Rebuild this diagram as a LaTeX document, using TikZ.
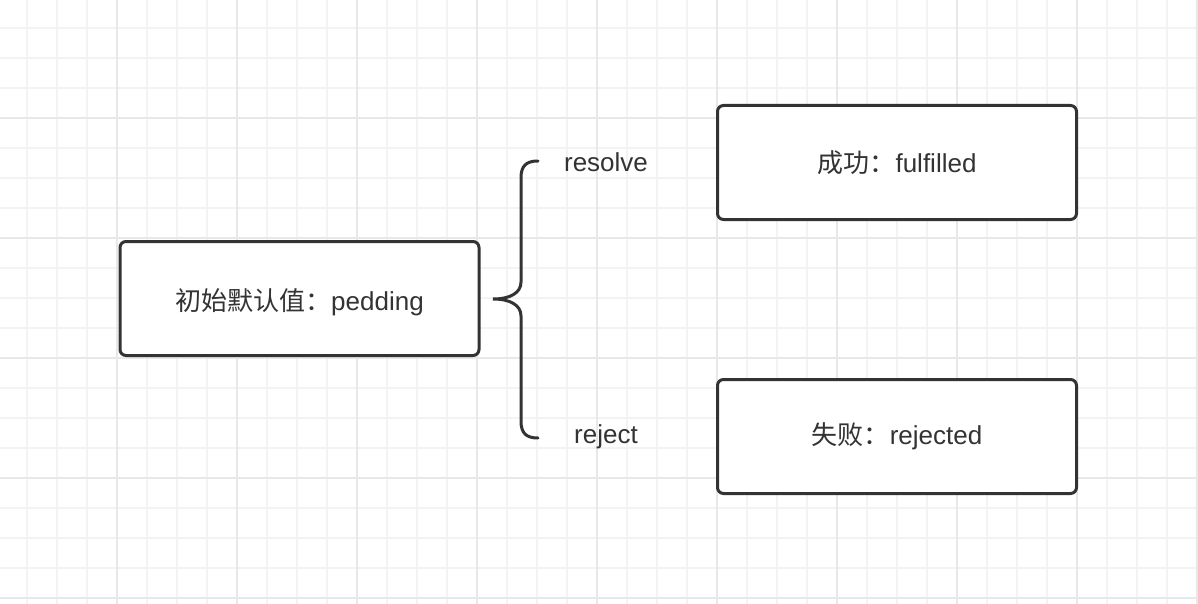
\documentclass[tikz,border=0pt]{standalone}
\usepackage{fontspec}
\setmainfont{Liberation Sans}
\newfontfamily\cjk{Noto Sans CJK SC}
\usepackage{tikz}
\tikzset{>=latex}
\definecolor{gridminor}{HTML}{F3F3F3}
\definecolor{gridmajor}{HTML}{E8E8E8}
\definecolor{ink}{HTML}{333333}
\tikzset{
  state/.style={draw=ink,line width=3pt,rounded corners=6pt,fill=white,
    minimum width=359pt,minimum height=114pt,text=ink,
    font=\fontsize{26}{30}\selectfont},
  branch/.style={text=ink,font=\fontsize{26}{30}\selectfont}
}
\begin{document}
\begin{tikzpicture}[x=1pt,y=-1pt]
\useasboundingbox (0,0) rectangle (1198,604);
\fill[white] (0,0) rectangle (1198,604);
% grid
\foreach \x in {27,57,...,1197} \draw[gridminor,line width=2pt] (\x,0) -- (\x,604);
\foreach \y in {28,58,...,598} \draw[gridminor,line width=2pt] (0,\y) -- (1198,\y);
\foreach \x in {117,237,...,1197} \draw[gridmajor,line width=2pt] (\x,0) -- (\x,604);
\foreach \y in {118,238,...,598} \draw[gridmajor,line width=2pt] (0,\y) -- (1198,\y);
% states
\node[state,text height=23pt,text depth=0pt] (pend) at (299.5,298.5) {{\cjk 初始默认值：}pedding};
\node[state] (ok) at (897,162.5) {{\cjk 成功：}fulfilled};
\node[state] (fail) at (897,436.5) {{\cjk 失败：}rejected};
\node[branch] (res) at (606,162) {resolve};
\node[branch] (rej) at (606,437) {reject};
% brace
\coordinate (tip) at (493,299);
\coordinate (top) at (538,161);
\coordinate (bot) at (538,438);
\draw[ink,line width=3pt,line cap=round] (top) .. controls (526,161) and (521,166) .. (521,178) -- (521,282)
  .. controls (521,293) and (510,299) .. (tip) .. controls (510,299) and (521,305) .. (521,316)
  -- (521,421) .. controls (521,433) and (526,438) .. (bot);
\end{tikzpicture}
\end{document}
